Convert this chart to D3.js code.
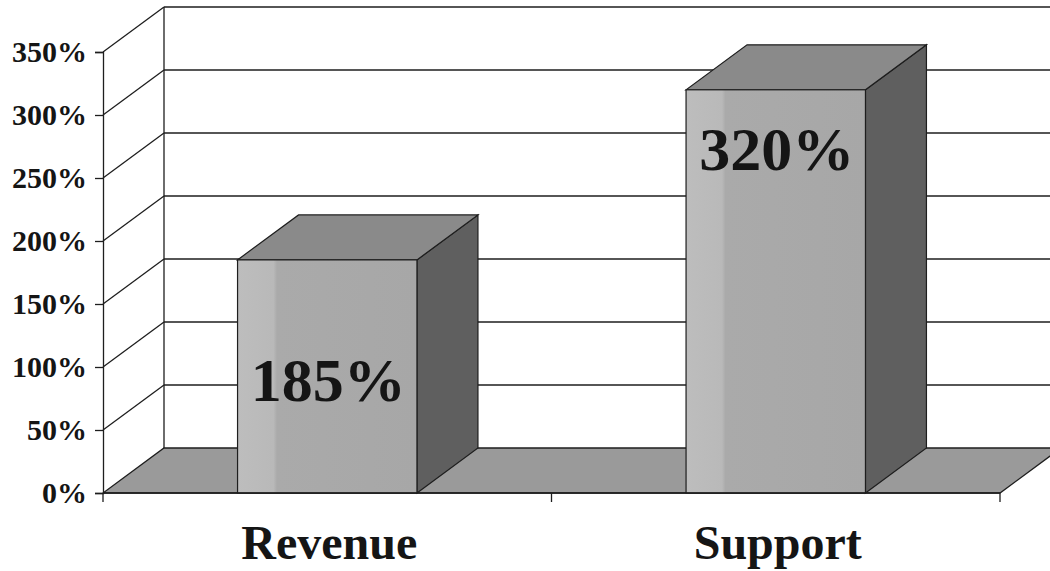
<!DOCTYPE html><head><meta charset="utf-8">
<title>revenue / support</title>
<style type="text/css">
* { box-sizing: border-box; }
body { margin: 0; background: white; }
svg text { font-family: "Liberation Serif", "Times New Roman", Times, serif; font-weight: bold; fill: #151515; }
</style>
<script type="text/javascript" src="https://cdn.jsdelivr.net/npm/d3@7"></script>
</head><body>
<div class="chart"></div>

<script type="text/javascript">

// data
var categories = ["Revenue", "Support"];
var values = [185, 320];
var valueLabels = ["185%", "320%"];
var labelAt = [73, 256];   // value (in %) where each bar label baseline sits
var yTicks = [0, 50, 100, 150, 200, 250, 300, 350];

var width = 1050, height = 571;
var depth = {dx: 61, dy: -45};   // 3d offset of the back wall

var svg = d3.select("div.chart").append("svg")
    .attr("width", width).attr("height", height)
    .attr("viewBox", [0, 0, width, height].join(","));

var defs = svg.append("defs");
var grad = defs.append("linearGradient").attr("id", "front")
    .attr("x1", "0").attr("x2", "1").attr("y1", "0").attr("y2", "0");
grad.append("stop").attr("offset", "0").attr("stop-color", "#bdbdbd");
grad.append("stop").attr("offset", "0.2").attr("stop-color", "#b9b9b9");
grad.append("stop").attr("offset", "0.22").attr("stop-color", "#aaaaaa");
grad.append("stop").attr("offset", "1").attr("stop-color", "#a7a7a7");

var x = d3.scaleBand().domain(categories).range([103, 1000])
    .paddingInner(0.6).paddingOuter(0.3);
var y = d3.scaleLinear().domain([0, 350]).range([493, 52]);

var line = "#1e1e1e";

// back wall gridlines
var g = svg.append("g");
g.selectAll("line.grid").data(yTicks.slice(1)).join("line").attr("class", "grid")
  .attr("x1", 103 + depth.dx).attr("x2", width)
  .attr("y1", d => y(d) + depth.dy).attr("y2", d => y(d) + depth.dy)
  .attr("stroke", line).attr("stroke-width", 1.3);
// side wall diagonals
g.selectAll("line.side").data(yTicks.slice(1)).join("line").attr("class", "side")
  .attr("x1", 103).attr("x2", 103 + depth.dx)
  .attr("y1", d => y(d)).attr("y2", d => y(d) + depth.dy)
  .attr("stroke", line).attr("stroke-width", 1.3);
// back wall left edge
g.append("line")
  .attr("x1", 103 + depth.dx).attr("x2", 103 + depth.dx)
  .attr("y1", y(0) + depth.dy).attr("y2", y(350) + depth.dy)
  .attr("stroke", line).attr("stroke-width", 1.3);

// floor
var x0 = x.range()[0], x1 = x.range()[1];
g.append("path")
  .attr("d", d3.line()([[x0, y(0)], [x1, y(0)], [x1 + depth.dx, y(0) + depth.dy], [x0 + depth.dx, y(0) + depth.dy]]) + "Z")
  .attr("fill", "#9a9a9a").attr("stroke", line).attr("stroke-width", 1.3);

// bars
var bars = svg.selectAll("g.bar").data(categories).join("g").attr("class", "bar");
bars.append("path")   // side
  .attr("d", (d, i) => {
    var r = x(d) + x.bandwidth();
    return d3.line()([[r, y(0)], [r, y(values[i])], [r + depth.dx, y(values[i]) + depth.dy], [r + depth.dx, y(0) + depth.dy]]) + "Z";
  })
  .attr("fill", "#5f5f5f").attr("stroke", line).attr("stroke-width", 1.2);
bars.append("path")   // top
  .attr("d", (d, i) => {
    var l = x(d), r = x(d) + x.bandwidth(), t = y(values[i]);
    return d3.line()([[l, t], [r, t], [r + depth.dx, t + depth.dy], [l + depth.dx, t + depth.dy]]) + "Z";
  })
  .attr("fill", "#8a8a8a").attr("stroke", line).attr("stroke-width", 1.2);
bars.append("rect")   // front
  .attr("x", d => x(d)).attr("width", x.bandwidth())
  .attr("y", (d, i) => y(values[i])).attr("height", (d, i) => y(0) - y(values[i]))
  .attr("fill", "url(#front)").attr("stroke", line).attr("stroke-width", 1.2);
bars.append("text")
  .attr("x", d => x(d) + x.bandwidth() / 2 + 1)
  .attr("y", (d, i) => y(labelAt[i]))
  .attr("text-anchor", "middle")
  .style("font-size", "62px")
  .text((d, i) => valueLabels[i]);

// front axes
var yAxis = svg.append("g").attr("transform", "translate(103,0)")
  .call(d3.axisLeft(y).tickValues(yTicks).tickFormat(d => d + "%").tickSizeOuter(0).tickSize(8).tickPadding(8));
yAxis.attr("font-family", null);
yAxis.select(".domain").attr("stroke", line).attr("stroke-width", 1.3);
yAxis.selectAll(".tick line").attr("stroke", line).attr("stroke-width", 1.3);
yAxis.selectAll(".tick text").style("font-size", "30px").attr("dy", "0.33em");

var xAxisLine = svg.append("g");
xAxisLine.append("line").attr("x1", x0).attr("x2", x1).attr("y1", y(0)).attr("y2", y(0))
  .attr("stroke", line).attr("stroke-width", 1.5);
var bounds = [x0, (x(categories[0]) + x.bandwidth() + x(categories[1])) / 2, x1];
xAxisLine.selectAll("line.tick").data(bounds).join("line").attr("class", "tick")
  .attr("x1", d => d).attr("x2", d => d).attr("y1", y(0)).attr("y2", y(0) + 9)
  .attr("stroke", line).attr("stroke-width", 1.3);
xAxisLine.selectAll("text").data(categories).join("text")
  .attr("x", d => x(d) + x.bandwidth() / 2 + 2)
  .attr("y", 559)
  .attr("text-anchor", "middle")
  .style("font-size", "48px")
  .text(d => d);

</script>
</body></html>
